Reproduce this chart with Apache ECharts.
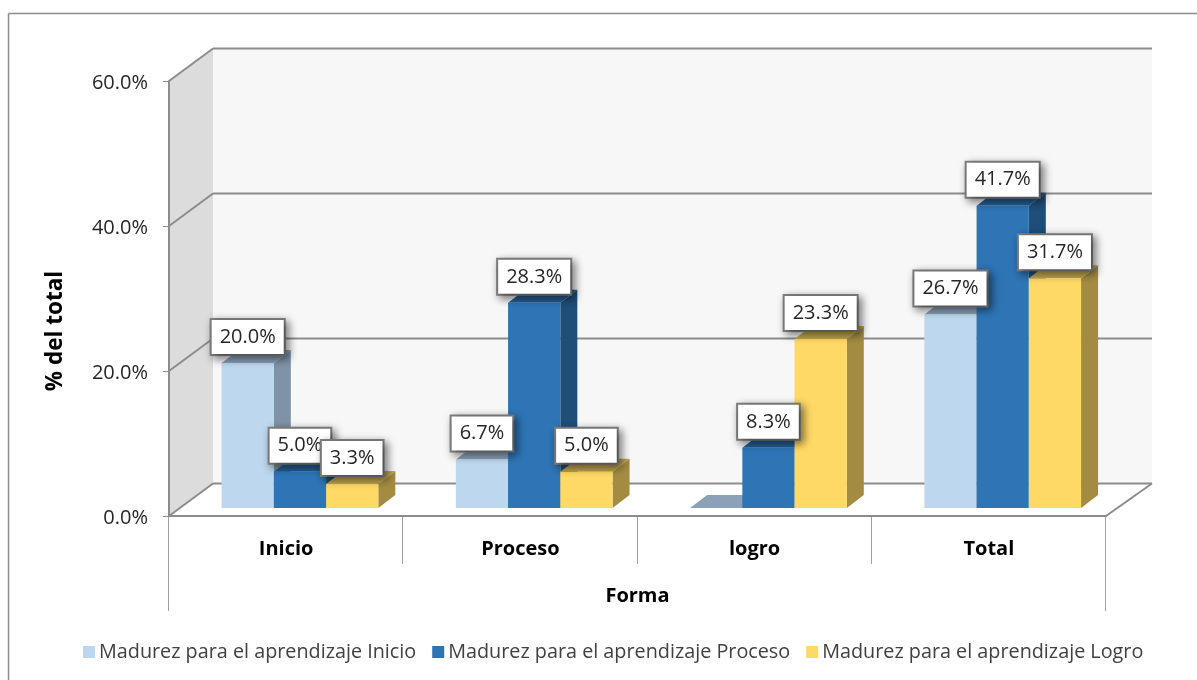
<!DOCTYPE html>
<html>
<head>
<meta charset="utf-8">
<style>html,body{margin:0;padding:0;background:#fff}#chart{width:1197px;height:680px}</style>
<script src="https://cdn.jsdelivr.net/npm/echarts@6/dist/echarts.min.js"></script>
</head>
<body>
<div id="chart"></div>
<script>
var categories = ['Inicio', 'Proceso', 'logro', 'Total'];
var seriesNames = [
    'Madurez para el aprendizaje Inicio',
    'Madurez para el aprendizaje Proceso',
    'Madurez para el aprendizaje Logro'
];
var inicioValues = [20.0, 6.7, 0, 26.7];
var procesoValues = [5.0, 28.3, 8.3, 41.7];
var logroValues = [3.3, 5.0, 23.3, 31.7];
var yTicks = [0, 20, 40, 60];

// front, side, top faces
var palette = [
    ['#bdd7ee', '#7f92a6', '#8aa1b8'],
    ['#2e75b6', '#1f4e79', '#255f94'],
    ['#ffd966', '#a38c42', '#c2a64e']
];
var FONT = '"Open Sans"';
var WALL_DX = 44, WALL_DY = -32.5;   // depth of the box
var BAR_DX = 17, BAR_DY = -13;       // depth of a bar
var BAR_LIFT = 8;                    // bars stand a bit behind the front edge
var LINE = '#8c8c8c';

var chart = echarts.init(document.getElementById('chart'));

function line(x1, y1, x2, y2, color, width) {
    return {
        type: 'line',
        shape: {x1: x1, y1: y1, x2: x2, y2: y2},
        style: {stroke: color || LINE, lineWidth: width || 2}
    };
}
function poly(points, fill) {
    return {type: 'polygon', shape: {points: points}, style: {fill: fill, stroke: null}};
}

function renderWalls(params, api) {
    var band = api.size([1, 0])[0];
    var left = api.coord([0, 0])[0] - band / 2;
    var right = left + band * categories.length;
    var y0 = api.coord([0, 0])[1];
    var yTop = api.coord([0, yTicks[yTicks.length - 1]])[1];
    var bl = left + WALL_DX, br = right + WALL_DX + 2;
    var children = [
        poly([[bl, yTop + WALL_DY], [br, yTop + WALL_DY], [br, y0 + WALL_DY], [bl, y0 + WALL_DY]], '#f7f7f7'),
        poly([[left, yTop], [bl, yTop + WALL_DY], [bl, y0 + WALL_DY], [left, y0]], '#dcdcdc'),
        poly([[left, y0], [bl, y0 + WALL_DY], [br, y0 + WALL_DY], [right, y0]], '#ffffff')
    ];
    yTicks.forEach(function (t) {
        var y = api.coord([0, t])[1];
        children.push(line(left, y, bl, y + WALL_DY));
        children.push(line(bl, y + WALL_DY, br, y + WALL_DY));
    });
    children.push(line(right, y0, br, y0 + WALL_DY));
    // dividers under the axis, the outer ones hang lower
    for (var i = 0; i <= categories.length; i++) {
        var x = Math.round(left + band * i) - 0.5;
        var outer = i === 0 || i === categories.length;
        children.push(line(x, y0, x, y0 + (outer ? 95 : 48), '#a0a0a0', 1));
    }
    return {type: 'group', children: children};
}

function barBox(api, slot) {
    var band = api.size([1, 0])[0];
    var cat = api.value(0);
    var w = band * 0.223;
    var x = api.coord([cat, 0])[0] - band / 2 + band * 0.2245 + slot * w;
    var base = api.coord([cat, 0])[1] - BAR_LIFT;
    var top = api.coord([cat, api.value(1)])[1] - BAR_LIFT;
    return {x: x, w: w, base: base, top: top};
}

function barRenderer(slot) {
    return function (params, api) {
        var b = barBox(api, slot);
        var c = palette[slot];
        var x2 = b.x + b.w;
        return {
            type: 'group',
            children: [
                poly([[x2, b.top], [x2 + BAR_DX, b.top + BAR_DY], [x2 + BAR_DX, b.base + BAR_DY], [x2, b.base]], c[1]),
                poly([[b.x, b.top], [b.x + BAR_DX, b.top + BAR_DY], [x2 + BAR_DX, b.top + BAR_DY], [x2, b.top]], c[2]),
                poly([[b.x, b.top], [x2, b.top], [x2, b.base], [b.x, b.base]], c[0])
            ]
        };
    };
}

function labelRenderer(slot) {
    return function (params, api) {
        var v = api.value(1);
        if (!v) {
            return null;
        }
        var b = barBox(api, slot);
        return {
            type: 'text',
            x: b.x + b.w / 2,
            y: b.top - 26,
            style: {
                text: v.toFixed(1) + '%',
                font: '20px ' + FONT,
                fill: '#262626',
                align: 'center',
                verticalAlign: 'middle',
                backgroundColor: '#ffffff',
                borderColor: '#7f7f7f',
                borderWidth: 2,
                padding: [7, 8, 7, 8],
                shadowColor: 'rgba(0,0,0,0.45)',
                shadowBlur: 8,
                shadowOffsetX: 3,
                shadowOffsetY: 3
            }
        };
    };
}

var valueLists = [inicioValues, procesoValues, logroValues];
var series = [{
    type: 'custom',
    name: 'walls',
    z: -1,
    silent: true,
    renderItem: renderWalls,
    data: [[0, 0]]
}];
valueLists.forEach(function (values, s) {
    series.push({
        type: 'custom',
        name: seriesNames[s],
        z: 3 + s,
        itemStyle: {color: palette[s][0]},
        renderItem: barRenderer(s),
        encode: {x: 0, y: 1},
        data: values.map(function (v, i) { return [i, v]; })
    });
});
valueLists.forEach(function (values, s) {
    series.push({
        type: 'custom',
        name: 'label' + s,
        z: 10 + s,
        silent: true,
        renderItem: labelRenderer(s),
        encode: {x: 0, y: 1},
        data: values.map(function (v, i) { return [i, v]; })
    });
});

var option = {
    backgroundColor: '#ffffff',
    animation: false,
    textStyle: {fontFamily: 'Open Sans'},
    grid: {left: 169, top: 81, width: 937, height: 435, containLabel: false},
    legend: {
        data: seriesNames,
        left: 78,
        top: 637,
        itemWidth: 12,
        itemHeight: 12,
        itemGap: 16,
        icon: 'rect',
        textStyle: {fontFamily: 'Open Sans', fontSize: 19.8, color: '#404040', padding: [0, 0, 0, -1]}
    },
    xAxis: {
        type: 'category',
        data: categories,
        name: 'Forma',
        nameLocation: 'middle',
        nameGap: 70,
        nameTextStyle: {fontFamily: 'Open Sans', fontWeight: 'bold', fontSize: 20, color: '#000'},
        axisLine: {lineStyle: {color: LINE, width: 2}},
        axisTick: {show: false},
        axisLabel: {margin: 23, fontFamily: 'Open Sans', fontWeight: 'bold', fontSize: 20, color: '#000'}
    },
    yAxis: {
        type: 'value',
        min: 0,
        max: 60,
        interval: 20,
        axisLine: {show: true, lineStyle: {color: LINE, width: 2}},
        axisTick: {show: true, length: 6, lineStyle: {color: LINE, width: 1}},
        splitLine: {show: false},
        axisLabel: {
            margin: 21,
            formatter: function (v) { return '{tick|' + v.toFixed(1) + '%}'; },
            rich: {
                tick: {
                    fontFamily: 'Open Sans',
                    fontSize: 20,
                    color: '#262626',
                    padding: [4, 0, 0, 0]
                }
            }
        }
    },
    graphic: [
        {type: 'line', shape: {x1: 8.5, y1: 680, x2: 8.5, y2: 13.5}, style: {stroke: '#8c8c8c', lineWidth: 1.5}},
        {type: 'line', shape: {x1: 8.5, y1: 13.5, x2: 1197, y2: 13.5}, style: {stroke: '#8c8c8c', lineWidth: 1.5}},
        {
            type: 'text',
            x: 56,
            y: 331,
            rotation: Math.PI / 2,
            style: {
                text: '% del total',
                font: 'bold 22.5px ' + FONT,
                fill: '#000',
                align: 'center',
                verticalAlign: 'middle'
            }
        }
    ],
    series: series
};
chart.setOption(option);
</script>
</body>
</html>
